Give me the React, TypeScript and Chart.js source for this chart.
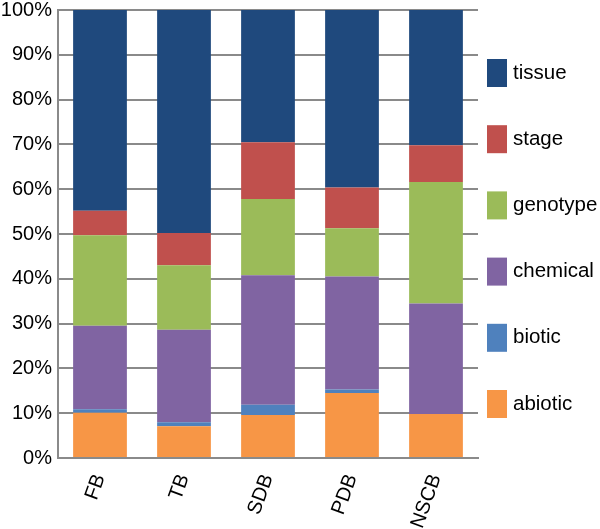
import React, { useEffect, useRef } from "react";
import { Chart, registerables } from "chart.js";

Chart.register(...registerables);

const categories = ["FB", "TB", "SDB", "PDB", "NSCB"];
const abiotic = [10.1, 7.1, 9.6, 14.5, 9.8];
const biotic = [0.8, 0.9, 2.3, 0.8, 0];
const chemical = [18.6, 20.6, 28.9, 25.2, 24.7];
const genotype = [20.2, 14.4, 17.0, 10.8, 27.1];
const stage = [5.5, 7.2, 12.7, 9.1, 8.2];
const tissue = [44.8, 49.8, 29.5, 39.6, 30.2];
const yTicks = [0, 10, 20, 30, 40, 50, 60, 70, 80, 90, 100];

const seriesNames = ["abiotic", "biotic", "chemical", "genotype", "stage", "tissue"];
const seriesValues = [abiotic, biotic, chemical, genotype, stage, tissue];
const seriesColors = ["#F79646", "#4F81BD", "#8064A2", "#9BBB59", "#C0504D", "#1F497D"];

const FONT = "'Liberation Sans', Arial, sans-serif";
const GRID = "#8a8a8a";

const legendPlugin = {
  id: "sideLegend",
  afterDraw(chart: any) {
    const ctx = chart.ctx;
    ctx.save();
    ctx.font = `20.5px ${FONT}`;
    ctx.textBaseline = "middle";
    ctx.textAlign = "left";
    const n = chart.data.datasets.length;
    const top = 73;
    const step = 66.2;
    for (let i = 0; i < n; i++) {
      const ds = chart.data.datasets[n - 1 - i];
      const cy = top + i * step;
      ctx.fillStyle = ds.backgroundColor;
      ctx.fillRect(487, cy - 14, 20, 28);
      ctx.fillStyle = "#000";
      ctx.fillText(ds.label, 513, cy);
    }
    ctx.restore();
  },
};

export default function App() {
  const ref = useRef<HTMLCanvasElement | null>(null);
  useEffect(() => {
    if (!ref.current) return;
    Chart.defaults.font.family = FONT;
    Chart.defaults.font.size = 20;
    Chart.defaults.color = "#000";
    const chart = new Chart(ref.current, {
      type: "bar",
      data: {
        labels: categories,
        datasets: seriesNames.map((name, i) => ({
          label: name,
          data: seriesValues[i],
          backgroundColor: seriesColors[i],
          borderWidth: 0,
          barPercentage: 0.64,
          categoryPercentage: 1,
        })),
      },
      options: {
        animation: false,
        responsive: true,
        maintainAspectRatio: false,
        layout: { padding: { top: 0, right: 122, left: 0, bottom: 0 } },
        plugins: {
          legend: { display: false },
          tooltip: { enabled: false },
        },
        scales: {
          x: {
            stacked: true,
            grid: { display: false },
            border: { display: true, color: GRID, width: 2 },
            ticks: {
              minRotation: 70,
              maxRotation: 70,
              padding: 5,
              font: { size: 20 },
              color: "#000",
            },
            afterFit(scale: any) {
              scale.height = 71;
            },
          },
          y: {
            stacked: true,
            min: 0,
            max: 100,
            afterBuildTicks(scale: any) {
              scale.ticks = yTicks.map((v) => ({ value: v }));
            },
            grid: { color: GRID, lineWidth: 2, drawTicks: false },
            border: { display: true, color: GRID, width: 2 },
            ticks: {
              padding: 6,
              font: { size: 20 },
              color: "#000",
              callback: (v: any) => `${v}%`,
            },
            afterFit(scale: any) {
              scale.width = 58;
              scale.paddingTop = 10;
            },
          },
        },
      },
      plugins: [legendPlugin],
    });
    return () => chart.destroy();
  }, []);
  return (
    <div style={{ position: "absolute", left: 0, top: 0, width: 600, height: 529 }}>
      <canvas ref={ref} />
    </div>
  );
}
